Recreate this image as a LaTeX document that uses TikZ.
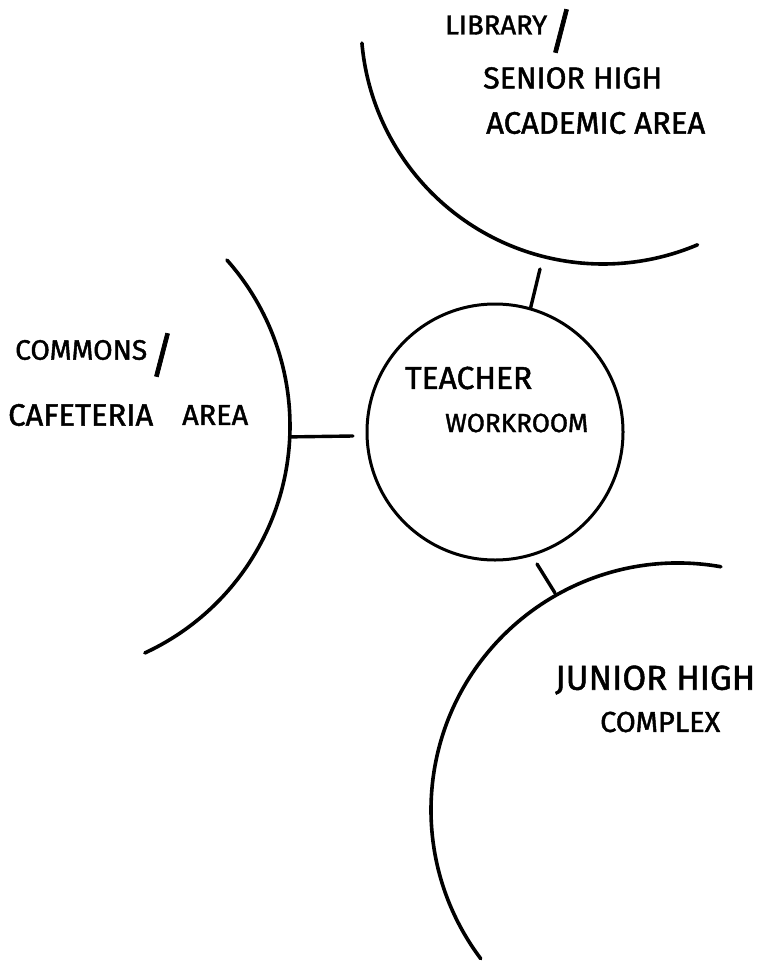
\documentclass[tikz,border=0pt]{standalone}
\usepackage{fontspec}
\setmainfont{Fira Sans}[FakeBold=1.5]
\usepackage{graphicx}
\usetikzlibrary{calc}

\begin{document}
\begin{tikzpicture}[x=1pt,y=1pt,line cap=round,
  zone/.style={line width=3.6pt},
  link/.style={line width=3.4pt},
  lbl/.style={anchor=west,inner sep=0pt},
  slashmark/.style={inner sep=0pt,font=\fontsize{48}{48}\selectfont}]
\useasboundingbox[fill=white] (0,0) rectangle (758,-963);

% centres of the three surrounding areas
\coordinate (libc) at (603,-22);
\coordinate (comc) at (40,-426);
\coordinate (junc) at (678,-810);

% teacher workroom
\node[circle,draw,line width=3pt,minimum size=256pt,inner sep=0pt] (workroom) at (495,-432) {};

% area outlines
\draw[zone] ($(libc)+(185:242)$) arc[start angle=185,end angle=293,radius=242];
\draw[zone] ($(comc)+(41.6:250)$) arc[start angle=41.6,end angle=-65.2,radius=250];
\draw[zone] ($(junc)+(80:247)$) arc[start angle=80,end angle=217,radius=247];

% connector ends on the arcs and in the gaps
\coordinate (libend) at (540,-269);
\coordinate (comedge) at ($(comc)+(-2.5:250)$);
\coordinate (comend) at (353,-436);
\coordinate (junA) at (537,-564);
\coordinate (junB) at (555,-593);

% connectors
\draw[link] (libend) -- (workroom.74);
\draw[link] (comedge) -- (comend);
\draw[link] (junA) -- (junB);

% labels
\node[lbl] (libt) at (445,-25) {\resizebox{102pt}{!}{LIBRARY}};
\node[slashmark] (libs) at (561,-31) {/};
\node[lbl] (snr) at (483,-78) {\resizebox{179pt}{!}{SENIOR HIGH}};
\node[lbl] (acad) at (486,-123) {\resizebox{219pt}{!}{ACADEMIC AREA}};

\node[lbl] (comt) at (15,-350) {\resizebox{132pt}{!}{COMMONS}};
\node[slashmark] (coms) at (162,-355) {/};
\node[lbl] (caf) at (8,-415) {\resizebox{145pt}{!}{CAFETERIA}};
\node[lbl] (cafa) at (182,-415) {\resizebox{66pt}{!}{AREA}};

\node[lbl] (tch) at (405,-378) {\resizebox{127pt}{!}{TEACHER}};
\node[lbl] (wkr) at (445,-423) {\resizebox{143pt}{!}{WORKROOM}};

\node[lbl] (jhs) at (555,-680) {\resizebox{200pt}{!}{JUNIOR HIGH}};
\node[lbl] (cpx) at (600,-722) {\resizebox{120pt}{!}{COMPLEX}};
\end{tikzpicture}
\end{document}
